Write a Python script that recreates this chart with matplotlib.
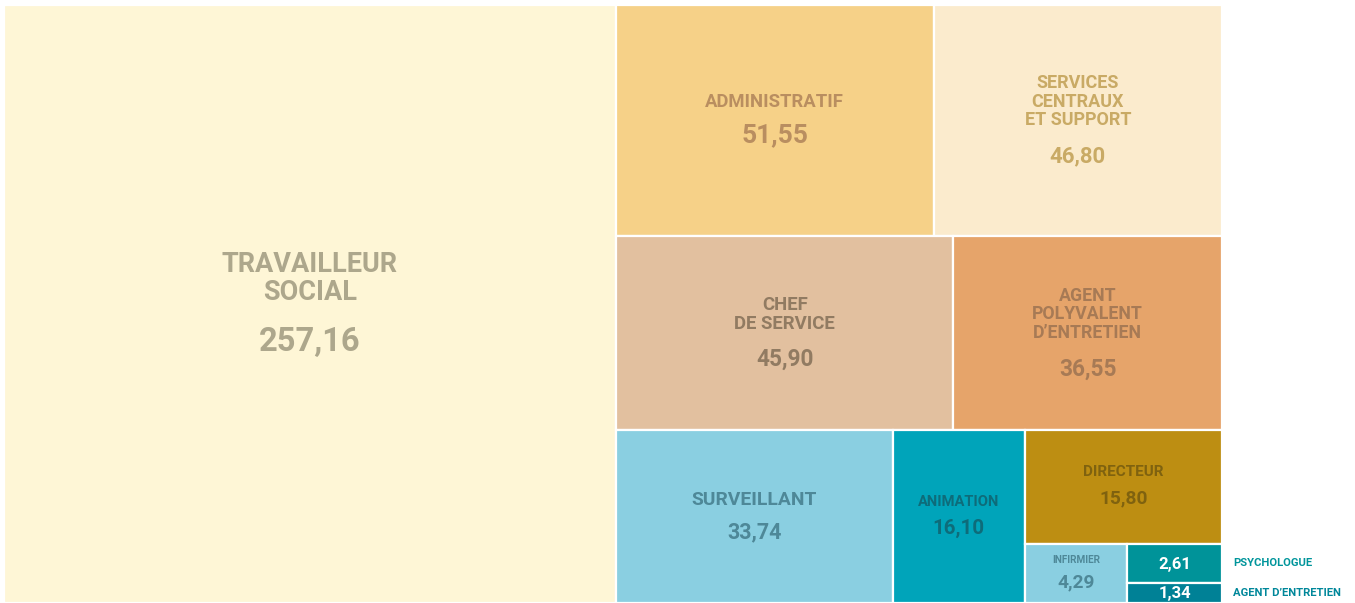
import matplotlib
matplotlib.use("Agg")
import matplotlib.pyplot as plt
from matplotlib.patches import Rectangle

# ---- data ----
labels = ["TRAVAILLEUR\nSOCIAL", "ADMINISTRATIF", "SERVICES\nCENTRAUX\nET SUPPORT",
          "CHEF\nDE SERVICE", "AGENT\nPOLYVALENT\nD\u2019ENTRETIEN", "SURVEILLANT",
          "ANIMATION", "DIRECTEUR", "INFIRMIER", "PSYCHOLOGUE", "AGENT D\u2019ENTRETIEN"]
values = [257.16, 51.55, 46.80, 45.90, 36.55, 33.74, 16.10, 15.80, 4.29, 2.61, 1.34]
value_texts = ["257,16", "51,55", "46,80", "45,90", "36,55", "33,74",
               "16,10", "15,80", "4,29", "2,61", "1,34"]

# ---- styles ----
fill_colors = ["#FEF6D6", "#F6D188", "#FBEBCD", "#E2C09F", "#E6A46A", "#8ACFE1",
               "#00A4BA", "#BD8E12", "#8ACFE1", "#009399", "#008196"]
text_colors = ["#ADA78C", "#B98E60", "#C9AA65", "#917B62", "#A77A55", "#4E8898",
               "#0E6C7A", "#7F620F", "#4E8898", "#FFFFFF", "#FFFFFF"]
label_sizes = [19.5, 13.3, 13, 13.4, 12.8, 13.9, 10.6, 11, 7.2, 0, 0]
value_sizes = [23.5, 19, 16, 16.3, 16.3, 15.5, 14.8, 13.8, 13.8, 12, 12]
outside = [False] * 9 + [True, True]
outside_colors = {9: "#00959B", 10: "#00879A"}

# nested slice layout: ('h', children) splits horizontally, ('v', children) vertically
tree = ('h', [0, ('v', [('h', [1, 2]), ('h', [3, 4]),
                         ('h', [5, 6, ('v', [7, ('h', [8, ('v', [9, 10])])])])])])


def total(node):
    if isinstance(node, int):
        return values[node]
    return sum(total(c) for c in node[1])


def layout(node, x, y, w, h, out):
    if isinstance(node, int):
        out[node] = (x, y, w, h)
        return
    d, children = node
    s = total(node)
    pos = x if d == 'h' else y
    for c in children:
        frac = total(c) / s
        if d == 'h':
            layout(c, pos, y, w * frac, h, out)
            pos += w * frac
        else:
            layout(c, x, pos, w, h * frac, out)
            pos += h * frac


W, H = 1355, 603
fig = plt.figure(figsize=(W / 100, H / 100), dpi=100)
ax = fig.add_axes([0, 0, 1, 1])
ax.set_xlim(0, W)
ax.set_ylim(H, 0)
ax.axis("off")

rects = {}
layout(tree, 4, 5, 1218, 598, rects)

FONT = ["Roboto", "DejaVu Sans"]
for i in range(len(values)):
    x, y, w, h = rects[i]
    ax.add_patch(Rectangle((x, y), w, h, facecolor=fill_colors[i],
                           edgecolor="white", linewidth=1.6))
    cx, cy = x + w / 2, y + h / 2
    if label_sizes[i] > 0:
        nl = labels[i].count("\n") + 1
        lab_h = nl * label_sizes[i] * 1.2
        num_h = value_sizes[i] * 0.95
        gap = value_sizes[i] * 0.3
        block = lab_h + gap + num_h
        top = -block / 2  # in points, relative to center (downwards positive)
        ax.annotate(labels[i], (cx, cy), xytext=(0, -top), textcoords="offset points",
                    ha="center", va="top", fontsize=label_sizes[i], fontweight="bold",
                    color=text_colors[i], family=FONT, linespacing=1.05)
        ax.annotate(value_texts[i], (cx, cy), xytext=(0, -(top + lab_h + gap)),
                    textcoords="offset points", ha="center", va="top",
                    fontsize=value_sizes[i], fontweight="bold",
                    color=text_colors[i], family=FONT)
    else:
        ax.text(cx, cy + 1, value_texts[i], ha="center", va="center",
                fontsize=value_sizes[i], fontweight="bold", color=text_colors[i],
                family=FONT)
    if outside[i]:
        ax.text(x + w + 11, cy, labels[i], ha="left", va="center", fontsize=8.1,
                fontweight="bold", color=outside_colors[i], family=FONT)

fig.savefig("out.png", dpi=100, facecolor="white")
